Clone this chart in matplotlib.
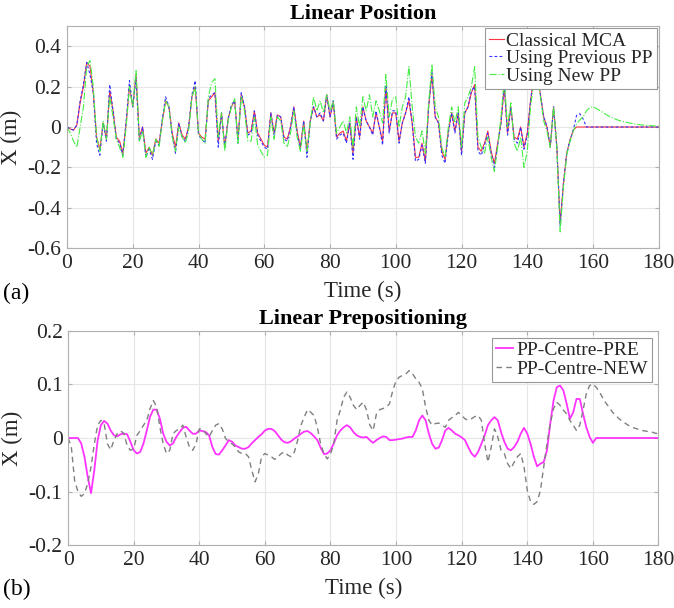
import matplotlib
matplotlib.use('Agg')
import matplotlib.pyplot as plt
import numpy as np

plt.rcParams['font.family'] = ['Liberation Serif', 'DejaVu Serif']
plt.rcParams['axes.unicode_minus'] = False

# ---- data (1 s steps) ----
time_s = np.arange(0, 181)

mca = [
    0, -0.01, -0.015, 0.01, 0.12, 0.2, 0.32, 0.3, 0.17, -0.05,
    -0.11, 0.02, -0.06, 0.18, 0.08, -0.05, -0.07, -0.13, 0.02, 0.2,
    0.1, 0.26, -0.05, 0.0, -0.13, -0.1, -0.14, -0.06, -0.08, 0.03,
    0.13, 0.1, -0.03, -0.1, 0.02, -0.04, -0.06, 0.0, 0.15, 0.2,
    -0.03, -0.05, -0.06, 0.13, 0.15, 0.17, -0.07, 0.07, -0.1, 0.04,
    0.1, 0.13, -0.06, 0.16, 0.1, -0.03, -0.02, 0.08, -0.03, -0.06,
    -0.09, -0.1, 0.07, -0.03, 0.06, 0.05, -0.05, -0.06, 0.0, 0.1,
    -0.02, -0.1, 0.03, -0.12, 0.03, 0.1, 0.05, 0.06, 0.03, 0.16,
    0.05, 0.12, -0.05, -0.03, -0.02, -0.07, 0.02, -0.13, 0.05, -0.05,
    0.1, 0.03, 0.0, -0.03, 0.07, 0.0, -0.07, 0.2, -0.02, 0.07,
    0.07, -0.07, 0.02, 0.07, 0.13, 0.02, -0.15, -0.15, -0.08, -0.17,
    0.1, 0.26, 0.05, 0.02, -0.12, -0.16, -0.02, 0.07, -0.02, 0.07,
    -0.12, 0.07, 0.1, 0.17, 0.21, -0.1, -0.12, -0.08, -0.02, -0.12,
    -0.18, -0.08, 0.02, 0.2, -0.03, 0.1, -0.05, -0.06, 0.0, -0.1,
    -0.03, 0.13, 0.25, 0.27, 0.16, 0.05, 0.0, -0.1, 0.1, -0.1,
    -0.48, -0.28, -0.13, -0.065, -0.015, 0, 0, 0, 0, 0,
    0, 0, 0, 0, 0, 0, 0, 0, 0, 0,
    0, 0, 0, 0, 0, 0, 0, 0, 0, 0, 0,
]

prev_pp = [
    0, -0.01, -0.015, 0.01, 0.13, 0.21, 0.32, 0.26, 0.17, -0.08,
    -0.14, 0.02, -0.07, 0.21, 0.08, -0.06, -0.08, -0.14, 0.03, 0.23,
    0.1, 0.24, -0.07, 0.0, -0.15, -0.11, -0.16, -0.07, -0.09, 0.04,
    0.15, 0.1, -0.04, -0.13, 0.02, -0.05, -0.07, 0.0, 0.16, 0.23,
    -0.04, -0.06, -0.08, 0.14, 0.16, 0.17, -0.1, 0.07, -0.1, 0.04,
    0.11, 0.13, -0.08, 0.17, 0.1, -0.04, -0.03, 0.08, -0.04, -0.07,
    -0.1, -0.11, 0.07, -0.04, 0.06, 0.05, -0.06, -0.07, 0.0, 0.1,
    -0.03, -0.11, 0.03, -0.15, 0.03, 0.1, 0.05, 0.07, 0.03, 0.16,
    0.05, 0.13, -0.06, -0.04, -0.03, -0.08, 0.02, -0.16, 0.05, -0.06,
    0.1, 0.03, 0.0, -0.04, 0.08, 0.0, -0.09, 0.21, -0.03, 0.08,
    0.08, -0.08, 0.02, 0.07, 0.15, 0.02, -0.17, -0.16, -0.09, -0.18,
    0.1, 0.27, 0.05, 0.02, -0.14, -0.18, -0.03, 0.07, -0.03, 0.07,
    -0.14, 0.07, 0.1, 0.18, 0.2, -0.12, -0.14, -0.09, -0.03, -0.13,
    -0.2, -0.09, 0.02, 0.21, -0.04, 0.1, -0.06, -0.08, 0.0, -0.11,
    -0.04, 0.13, 0.25, 0.27, 0.16, 0.05, 0.0, -0.1, 0.1, -0.1,
    -0.49, -0.28, -0.13, -0.065, -0.015, 0.058, 0.066, 0.04, 0.0, 0,
    0, 0, 0, 0, 0, 0, 0, 0, 0, 0,
    0, 0, 0, 0, 0, 0, 0, 0, 0, 0, 0,
]

new_pp = [
    0, -0.03, -0.07, -0.1, 0.0, 0.1, 0.3, 0.33, 0.2, -0.05,
    -0.12, 0.03, -0.06, 0.15, 0.05, -0.06, -0.1, -0.15, 0.0, 0.2,
    0.1, 0.28, -0.07, -0.02, -0.15, -0.1, -0.14, -0.06, -0.1, 0.03,
    0.13, 0.1, -0.05, -0.12, 0.0, -0.05, -0.08, -0.02, 0.15, 0.2,
    -0.03, -0.06, -0.08, 0.15, 0.22, 0.24, -0.05, 0.07, -0.12, 0.03,
    0.1, 0.14, -0.08, 0.15, 0.08, -0.07, -0.07, 0.05, -0.09, -0.12,
    -0.15, -0.14, 0.05, -0.06, 0.05, 0.03, -0.08, -0.1, -0.03, 0.08,
    -0.05, -0.12, 0.01, -0.12, 0.02, 0.15, 0.08, 0.13, 0.07, 0.16,
    0.08, 0.13, -0.03, 0.0, 0.03, -0.03, 0.05, -0.1, 0.1, 0.0,
    0.15, 0.08, 0.16, 0.05, 0.13, 0.08, 0.02, 0.26, 0.05, 0.14,
    0.15, 0.0, 0.1, 0.15, 0.3, 0.1, -0.05, -0.08, -0.02, -0.13,
    0.12, 0.31, 0.1, 0.05, -0.1, -0.15, 0.0, 0.1, 0.02, 0.1,
    -0.1, 0.12, 0.15, 0.2, 0.3, -0.05, -0.1, -0.13, -0.05, -0.15,
    -0.22, -0.1, 0.05, 0.24, 0.0, 0.12, -0.08, -0.12, -0.05, -0.2,
    -0.12, 0.1, 0.22, 0.25, 0.15, 0.03, -0.02, -0.1, 0.1, -0.1,
    -0.52, -0.3, -0.14, -0.07, -0.02, 0.016, 0.035, 0.05, 0.08, 0.096,
    0.1, 0.092, 0.082, 0.072, 0.062, 0.052, 0.045, 0.038, 0.032, 0.028,
    0.024, 0.02, 0.017, 0.014, 0.012, 0.01, 0.008, 0.007, 0.006, 0.005, 0.005,
]

pp_centre_pre = [
    0, 0, 0, 0, -0.01, -0.035, -0.073, -0.103, -0.06, -0.005,
    0.024, 0.032, 0.027, 0.014, 0.005, 0.003, 0.007, 0.008, 0.007, -0.007,
    -0.023, -0.029, -0.026, -0.01, 0.014, 0.04, 0.053, 0.053, 0.036, 0.008,
    -0.007, -0.014, -0.01, 0.002, 0.011, 0.019, 0.021, 0.014, 0.008, 0.008,
    0.014, 0.013, 0.011, 0.005, -0.017, -0.03, -0.031, -0.023, -0.014, -0.004,
    -0.007, -0.014, -0.017, -0.02, -0.02, -0.017, -0.01, -0.004, 0.002, 0.007,
    0.014, 0.017, 0.017, 0.013, 0.005, -0.003, -0.008, -0.009, -0.006, -0.001,
    0.003, 0.008, 0.012, 0.013, 0.009, 0.003, -0.004, -0.018, -0.03, -0.029,
    -0.023, -0.01, 0.005, 0.014, 0.02, 0.024, 0.02, 0.011, 0.005, 0.002,
    0.001, 0.002, -0.004, -0.009, -0.004, 0.0, 0.003, 0.002, -0.004, -0.004,
    -0.003, -0.002, -0.001, 0.001, 0.002, 0.002, 0.014, 0.033, 0.042, 0.033,
    0.008, -0.011, -0.02, -0.018, -0.004, 0.014, 0.019, 0.014, 0.008, 0.005,
    0.001, -0.004, -0.017, -0.029, -0.035, -0.026, -0.011, 0.005, 0.024, 0.033,
    0.039, 0.033, 0.011, -0.007, -0.02, -0.023, -0.017, -0.007, 0.008, 0.019,
    0.008, -0.011, -0.035, -0.053, -0.048, -0.045, -0.023, 0.027, 0.07, 0.095,
    0.098, 0.089, 0.064, 0.036, 0.048, 0.073, 0.073, 0.045, 0.02, 0.002,
    -0.009, 0, 0, 0, 0, 0, 0, 0, 0, 0,
    0, 0, 0, 0, 0, 0, 0, 0, 0, 0, 0,
]

pp_centre_new = [
    0, -0.017, -0.08, -0.1, -0.109, -0.104, -0.085, -0.054, -0.011, 0.024,
    0.033, 0.027, -0.011, -0.022, -0.004, 0.008, 0.013, 0.009, -0.014, -0.023,
    -0.02, 0.005, 0.014, 0.024, 0.033, 0.055, 0.07, 0.058, 0.02, -0.011,
    -0.029, -0.023, 0.008, 0.014, 0.017, 0.024, 0.002, -0.017, -0.023, -0.011,
    0.017, 0.017, 0.008, 0.002, 0.014, 0.024, 0.027, 0.017, -0.001, -0.007,
    -0.011, -0.017, -0.026, -0.029, -0.029, -0.035, -0.06, -0.082, -0.067, -0.035,
    -0.029, -0.032, -0.035, -0.04, -0.035, -0.029, -0.026, -0.032, -0.035, -0.026,
    -0.004, 0.024, 0.039, 0.053, 0.048, 0.042, 0.02, -0.011, -0.029, -0.039,
    -0.03, -0.011, 0.033, 0.052, 0.076, 0.086, 0.076, 0.061, 0.053, 0.061,
    0.067, 0.052, 0.024, 0.014, 0.045, 0.053, 0.055, 0.058, 0.064, 0.089,
    0.107, 0.114, 0.117, 0.12, 0.126, 0.12, 0.111, 0.104, 0.092, 0.058,
    0.033, 0.024, 0.027, 0.028, 0.024, 0.02, 0.033, 0.038, 0.042, 0.048,
    0.042, 0.036, 0.033, 0.036, 0.04, 0.042, 0.033, -0.011, -0.045, -0.017,
    0.017, 0.002, -0.023, -0.029, -0.048, -0.057, -0.045, -0.035, -0.029, -0.054,
    -0.098, -0.119, -0.124, -0.119, -0.098, -0.054, -0.011, 0.027, 0.055, 0.067,
    0.061, 0.052, 0.045, 0.033, 0.024, 0.014, 0.024, 0.052, 0.083, 0.098,
    0.101, 0.095, 0.086, 0.075, 0.065, 0.057, 0.048, 0.042, 0.036, 0.031,
    0.027, 0.023, 0.02, 0.018, 0.016, 0.014, 0.013, 0.012, 0.011, 0.009, 0.008,
]

TEXT = '#262626'
GRID = '#e6e6e6'
SPINE = '#b0b0b0'


def style_axes(ax, yticks, ylim):
    ax.set_xlim(0, 180)
    ax.set_ylim(*ylim)
    ax.set_xticks(np.arange(0, 181, 20))
    ax.set_yticks(yticks)
    ax.set_yticklabels(['0' if abs(v) < 1e-9 else f'{v:g}' for v in yticks])
    ax.grid(True, color=GRID, linewidth=0.8)
    ax.set_axisbelow(True)
    for s in ax.spines.values():
        s.set_color(SPINE)
        s.set_linewidth(0.8)
    ax.tick_params(direction='in', length=3, color=SPINE, labelsize=15.5,
                   labelcolor=TEXT, pad=4, top=True, right=True,
                   labeltop=False, labelright=False)


def style_legend(leg):
    leg.get_frame().set_edgecolor('#999999')
    leg.get_frame().set_linewidth(0.8)
    for txt in leg.get_texts():
        txt.set_color(TEXT)


fig = plt.figure(figsize=(6.74, 6.08), dpi=100)

# === Top panel: linear position ===
ax1 = fig.add_axes([0.0994, 0.592, 0.878, 0.365])
ax1.plot(time_s, mca, '-', color='#ff3344', linewidth=0.8, label='Classical MCA')
ax1.plot(time_s, prev_pp, '--', color='#3333ff', linewidth=0.8,
         dashes=(2.5, 2), label='Using Previous PP')
ax1.plot(time_s, new_pp, '-.', color='#44ee44', linewidth=0.8, label='Using New PP')
style_axes(ax1, [-0.6, -0.4, -0.2, 0, 0.2, 0.4], (-0.6, 0.5))
ax1.set_title('Linear Position', fontsize=16, fontweight='bold', color='black', pad=5)
ax1.set_xlabel('Time (s)', fontsize=16.5, color=TEXT, labelpad=6)
ax1.set_ylabel('X (m)', fontsize=16.5, color=TEXT, labelpad=4)
leg1 = ax1.legend(loc='upper right', fontsize=14, handlelength=0.8, handletextpad=0.1,
                  borderpad=0.2, labelspacing=0.0, borderaxespad=0.1,
                  framealpha=1, fancybox=False)
style_legend(leg1)

# === Bottom panel: linear prepositioning ===
ax2 = fig.add_axes([0.101, 0.1036, 0.876, 0.352])
ax2.plot(time_s, pp_centre_pre, '-', color='#ff33ff', linewidth=1.3, label='PP-Centre-PRE')
ax2.plot(time_s, pp_centre_new, '--', color='#808080', linewidth=1.0,
         dashes=(4, 3), label='PP-Centre-NEW')
style_axes(ax2, [-0.2, -0.1, 0, 0.1, 0.2], (-0.2, 0.2))
ax2.set_title('Linear Prepositioning', fontsize=16, fontweight='bold', color='black', pad=5)
ax2.set_xlabel('Time (s)', fontsize=16.5, color=TEXT, labelpad=6)
ax2.set_ylabel('X (m)', fontsize=16.5, color=TEXT, labelpad=4)
leg2 = ax2.legend(loc='upper right', fontsize=14, handlelength=0.9, handletextpad=0.15,
                  borderpad=0.2, labelspacing=0.05, borderaxespad=0.35,
                  framealpha=1, fancybox=False)
style_legend(leg2)

# panel tags
fig.text(0.005, 0.517, '(a)', fontsize=17, color='black', va='center')
fig.text(0.005, 0.030, '(b)', fontsize=17, color='black', va='center')

fig.savefig('out.png', dpi=100)
